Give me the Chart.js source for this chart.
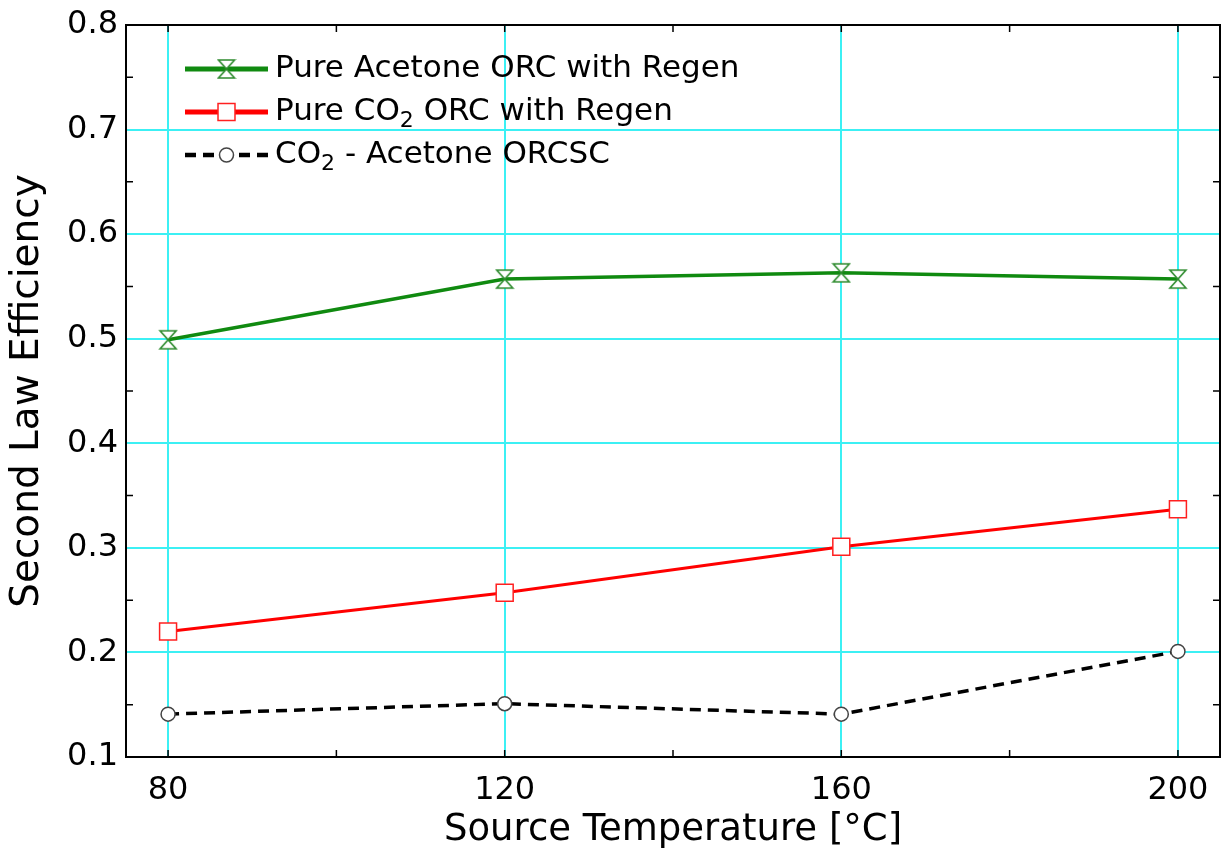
<!DOCTYPE html>
<html>
<head>
<meta charset="utf-8">
<script src="https://cdn.jsdelivr.net/npm/chart.js@4"></script>
<style>
  html, body { margin: 0; padding: 0; background: #fff; }
  #wrap { width: 1225px; height: 855px; }
</style>
</head>
<body>
<div id="wrap"><canvas id="chart" width="1225" height="855"></canvas></div>
<script>
// Data
const temps = [80, 120, 160, 200];
const acetoneRegen = [0.499, 0.557, 0.563, 0.557];
const co2Regen = [0.220, 0.257, 0.301, 0.337];
const co2AcetoneOrcsc = [0.141, 0.151, 0.141, 0.201];
const seriesNames = ['Pure Acetone ORC with Regen', 'Pure CO\u2082 ORC with Regen', 'CO\u2082 - Acetone ORCSC'];

// Axis ticks
const xTicks = [80, 120, 160, 200];
const xMinorTicks = [100, 140, 180];
const yMinorTicks = [0.15, 0.25, 0.35, 0.45, 0.55, 0.65, 0.75];

const FONT = '"DejaVu Sans", Arial, sans-serif';
const GRID = '#3cf0f4';

// Hourglass marker for the acetone series
function hourglass(color) {
    const c = document.createElement('canvas');
    c.width = 20; c.height = 22;
    const g = c.getContext('2d');
    g.strokeStyle = color;
    g.fillStyle = '#fff';
    g.lineWidth = 1.6;
    g.beginPath();
    g.moveTo(2, 2); g.lineTo(18, 2); g.lineTo(2, 20); g.lineTo(18, 20); g.closePath();
    g.fill(); g.stroke();
    return c;
}
const hourglassImg = hourglass('#2e8b2e');

const toPoints = (ys) => temps.map((t, i) => ({ x: t, y: ys[i] }));

// Frame, inward ticks and legend
const framePlugin = {
    id: 'frame',
    afterDatasetsDraw(chart) {
        const { ctx, chartArea: a, scales } = chart;
        ctx.save();
        ctx.strokeStyle = '#000';
        ctx.lineWidth = 1.5;
        ctx.beginPath();
        [...xTicks, ...xMinorTicks].forEach(v => {
            const px = scales.x.getPixelForValue(v);
            ctx.moveTo(px, a.bottom); ctx.lineTo(px, a.bottom - 7);
            ctx.moveTo(px, a.top); ctx.lineTo(px, a.top + 7);
        });
        yMinorTicks.forEach(v => {
            const py = scales.y.getPixelForValue(v);
            ctx.moveTo(a.left, py); ctx.lineTo(a.left + 7, py);
            ctx.moveTo(a.right, py); ctx.lineTo(a.right - 7, py);
        });
        ctx.stroke();
        ctx.lineWidth = 2;
        ctx.strokeRect(a.left, a.top, a.right - a.left, a.bottom - a.top);
        ctx.restore();
    },
    afterDraw(chart) {
        const { ctx, chartArea: a } = chart;
        const x0 = a.left + 59, x1 = a.left + 142, tx = a.left + 149;
        ctx.save();
        chart.data.datasets.forEach((ds, i) => {
            const y = a.top + 44 + i * 43;
            ctx.strokeStyle = ds.borderColor;
            ctx.lineWidth = ds.legendWidth;
            ctx.setLineDash(ds.borderDash || []);
            ctx.beginPath();
            ctx.moveTo(x0, y); ctx.lineTo(x1, y);
            ctx.stroke();
            ctx.setLineDash([]);
            ctx.fillStyle = ds.pointBackgroundColor;
            ctx.strokeStyle = ds.pointBorderColor;
            ctx.lineWidth = ds.pointBorderWidth;
            Chart.helpers.drawPoint(ctx, { pointStyle: ds.pointStyle, radius: ds.pointRadius, borderWidth: ds.pointBorderWidth, rotation: 0 }, (x0 + x1) / 2, y);
            // label with subscript 2
            ctx.fillStyle = '#000';
            ctx.textBaseline = 'middle';
            let x = tx;
            const parts = ds.label.split('\u2082');
            parts.forEach((p, k) => {
                ctx.font = '31px ' + FONT;
                ctx.fillText(p, x, y);
                x += ctx.measureText(p).width;
                if (k < parts.length - 1) {
                    ctx.font = '22px ' + FONT;
                    ctx.fillText('2', x, y + 9);
                    x += ctx.measureText('2').width;
                }
            });
        });
        ctx.restore();
    }
};

new Chart(document.getElementById('chart'), {
    type: 'line',
    data: {
        datasets: [{
            label: seriesNames[0],
            data: toPoints(acetoneRegen),
            borderColor: '#108a10',
            borderWidth: 3.5,
            legendWidth: 5,
            pointStyle: hourglassImg,
            pointRadius: 9,
            pointBackgroundColor: '#fff',
            pointBorderColor: '#2e8b2e',
            pointBorderWidth: 1.5
        }, {
            label: seriesNames[1],
            data: toPoints(co2Regen),
            borderColor: '#ff0000',
            borderWidth: 3,
            legendWidth: 5,
            pointStyle: 'rect',
            pointRadius: 12,
            pointBackgroundColor: '#fff',
            pointBorderColor: '#ff2020',
            pointBorderWidth: 1.5
        }, {
            label: seriesNames[2],
            data: toPoints(co2AcetoneOrcsc),
            borderColor: '#000',
            borderWidth: 3.5,
            legendWidth: 4.5,
            borderDash: [11, 7],
            pointStyle: 'circle',
            pointRadius: 7,
            pointBackgroundColor: '#fff',
            pointBorderColor: '#444',
            pointBorderWidth: 1.5
        }]
    },
    options: {
        responsive: false,
        animation: false,
        layout: { autoPadding: false, padding: { left: 0, right: 5, top: 25, bottom: 0 } },
        plugins: { legend: { display: false }, tooltip: { enabled: false } },
        elements: { line: { tension: 0 } },
        scales: {
            x: {
                type: 'linear',
                min: 75,
                max: 205,
                afterBuildTicks: (s) => { s.ticks = xTicks.map(v => ({ value: v })); },
                afterFit: (s) => { s.height = 98; s.paddingLeft = 0; s.paddingRight = 0; },
                grid: { color: GRID, lineWidth: 2, drawTicks: false },
                border: { display: false },
                ticks: { color: '#000', font: { size: 32, family: FONT }, padding: 14, maxRotation: 0 },
                title: { display: true, text: 'Source Temperature [\u00b0C]', color: '#000', font: { size: 37, family: FONT }, padding: { top: 0, bottom: 2 } }
            },
            y: {
                min: 0.1,
                max: 0.8,
                afterFit: (s) => { s.width = 126; s.paddingTop = 0; s.paddingBottom = 0; },
                grid: { color: GRID, lineWidth: 2, drawTicks: false },
                border: { display: false },
                ticks: { stepSize: 0.1, color: '#000', font: { size: 32, family: FONT }, padding: 8, callback: v => v.toFixed(1) },
                title: { display: true, text: 'Second Law Efficiency', color: '#000', font: { size: 39, family: FONT }, padding: { top: 4, bottom: 0 } }
            }
        }
    },
    plugins: [framePlugin]
});
</script>
</body>
</html>
